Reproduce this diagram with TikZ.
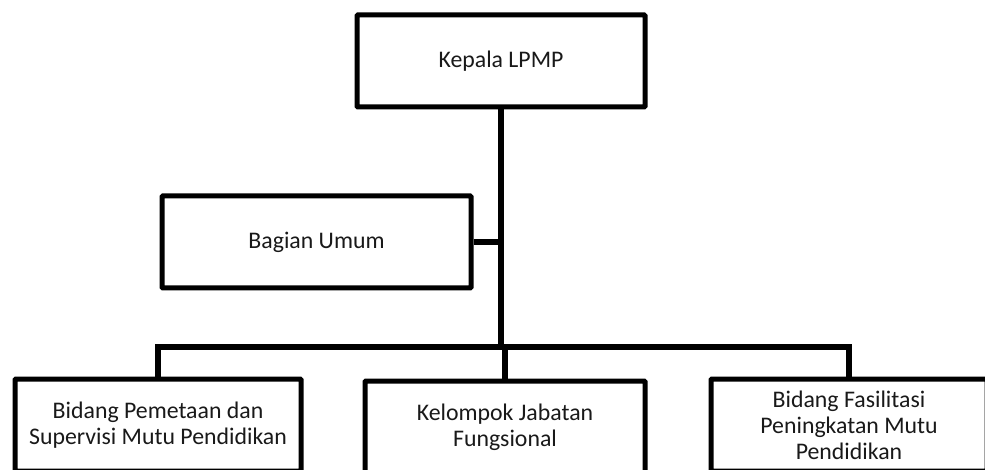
\documentclass[tikz,border=0pt]{standalone}
\usepackage{fontspec}
\setmainfont{Carlito}
\begin{document}
\begin{tikzpicture}[x=1pt,y=-1pt,
  box/.style={draw=black, line width=5pt, rounded corners=1pt, fill=white,
    minimum height=92pt, inner sep=0pt, align=center,
    font=\fontsize{23.8}{26}\selectfont, text=black!90},
  link/.style={draw=black, line width=5.5pt}]
\useasboundingbox (0,0) rectangle (985,470);
\clip (0,0) rectangle (985,470);
\fill[white] (0,0) rectangle (985,470);
\node[box, minimum width=288pt] (kepala) at (501,61) {Kepala LPMP};
\node[box, minimum width=309pt] (umum) at (316.5,242) {Bagian Umum};
\node[box, minimum width=286pt] (pemetaan) at (158,425) {Bidang Pemetaan dan\\Supervisi Mutu Pendidikan};
\node[box, minimum width=280pt] (kelompok) at (505,427) {Kelompok Jabatan\\Fungsional};
\node[box, minimum width=276pt] (fasilitasi) at (849,425) {Bidang Fasilitasi\\Peningkatan Mutu\\Pendidikan};
\coordinate (bus) at (501,347);
\draw[link] (kepala.south) -- (bus);
\draw[link] (umum.east) -- (umum.east -| bus);
\draw[link] (pemetaan.north) |- (bus) -| (fasilitasi.north);
\draw[link] (kelompok.north) -- (kelompok.north |- bus);
\end{tikzpicture}
\end{document}
